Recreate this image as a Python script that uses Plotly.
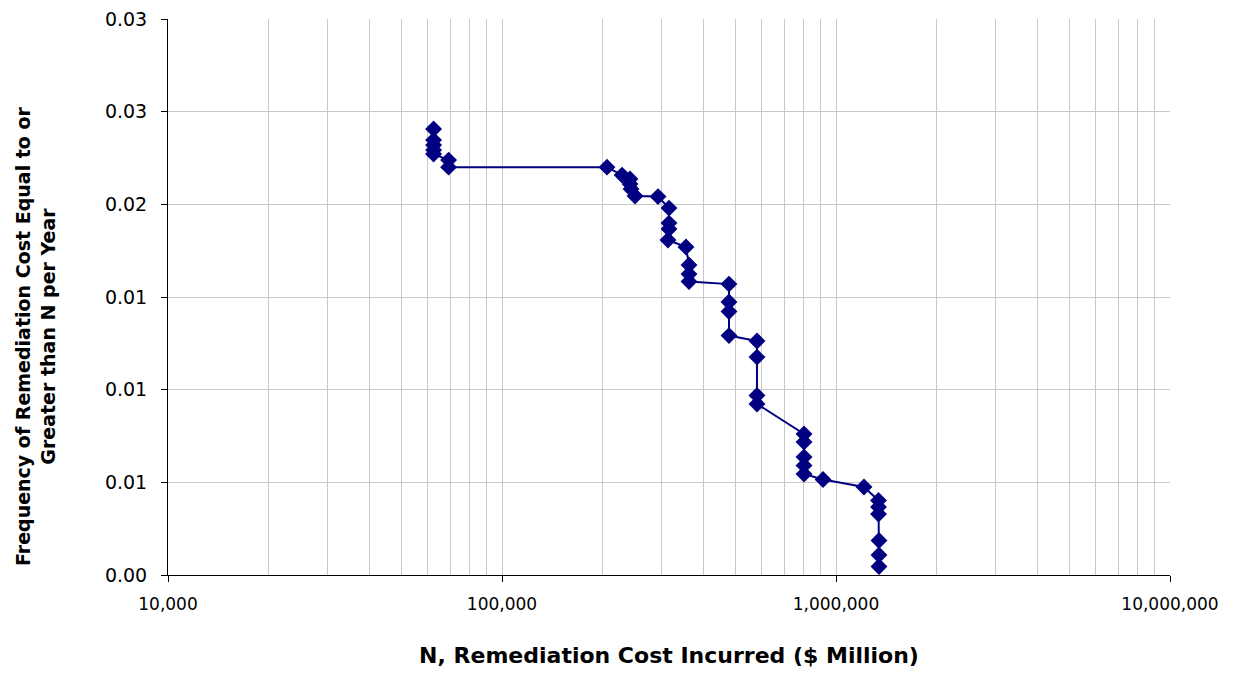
import plotly.graph_objects as go

# remediation cost N ($ million) and annual frequency of cost >= N
cost = [62400, 62400, 62400, 62400, 62400, 69200, 69200,
        206200, 228800, 241700, 241700, 243400, 250200, 293200,
        316200, 316200, 316200, 314000, 355500, 363000, 363000, 363000,
        478200, 478200, 478200, 478200, 580000, 580000, 580000, 580000,
        802200, 802200, 802200, 802200, 802200, 914400, 1212700,
        1340500, 1340500, 1340500, 1345000, 1345000, 1345000]
freq = [0.02407, 0.02347, 0.02320, 0.02293, 0.02272, 0.02239, 0.02201,
        0.02201, 0.02158, 0.02137, 0.02110, 0.02083, 0.02045, 0.02042,
        0.01980, 0.01899, 0.01867, 0.01808, 0.01770, 0.01673, 0.01624, 0.01584,
        0.01570, 0.01473, 0.01422, 0.01292, 0.01263, 0.01176, 0.00969, 0.00923,
        0.00761, 0.00718, 0.00637, 0.00591, 0.00545, 0.00515, 0.00475,
        0.00402, 0.00367, 0.00329, 0.00186, 0.00108, 0.00046]

x_major = [10000, 100000, 1000000, 10000000]
x_labels = ["10,000", "100,000", "1,000,000", "10,000,000"]
x_minor = [k * 10 ** e for e in (4, 5, 6) for k in range(2, 10)]
y_ticks = [0, 0.005, 0.01, 0.015, 0.02, 0.025, 0.03]

font = "DejaVu Sans, Arial, sans-serif"
grid = "#c8c8c8"

fig = go.Figure()
fig.add_trace(go.Scatter(
    x=cost, y=freq, mode="lines+markers",
    line=dict(color="#000080", width=2),
    marker=dict(symbol="diamond", size=13, color="#000080"),
    showlegend=False,
))

# page body has an 8px margin, so the figure is shifted by that amount
fig.update_layout(
    width=1241, height=665,
    margin=dict(l=160, r=79, t=11, b=98, autoexpand=False),
    paper_bgcolor="white", plot_bgcolor="white",
    font=dict(family=font, size=17, color="black"),
    xaxis=dict(
        type="log", range=[4, 7], automargin=False,
        tickvals=x_major, ticktext=x_labels,
        showgrid=True, gridcolor=grid, gridwidth=1,
        minor=dict(tickvals=x_minor, showgrid=True, gridcolor=grid,
                   gridwidth=1, ticks=""),
        showline=True, linecolor="black", linewidth=1,
        ticks="outside", ticklen=6, tickcolor="black",
        zeroline=False, tickfont=dict(size=17), ticklabelstandoff=8,
        ticklabeloverflow="allow",
        title=dict(text="<b>N, Remediation Cost Incurred ($ Million)</b>",
                   font=dict(size=22), standoff=34),
    ),
    yaxis=dict(
        range=[0, 0.030005], tickvals=y_ticks, tickformat=".2f", automargin=False,
        showgrid=True, gridcolor=grid, gridwidth=1,
        showline=True, linecolor="black", linewidth=1,
        ticks="outside", ticklen=6, tickcolor="black",
        zeroline=False, tickfont=dict(size=19), ticklabelstandoff=10,
        ticklabeloverflow="allow",
    ),
    annotations=[dict(
        text="<b>Frequency of Remediation Cost Equal to or<br>Greater than N per Year</b>",
        xref="paper", yref="paper", x=-0.1317, y=0.43,
        xanchor="center", yanchor="middle", textangle=-90,
        showarrow=False, font=dict(size=19),
    )],
)

fig.write_html("out.html")
